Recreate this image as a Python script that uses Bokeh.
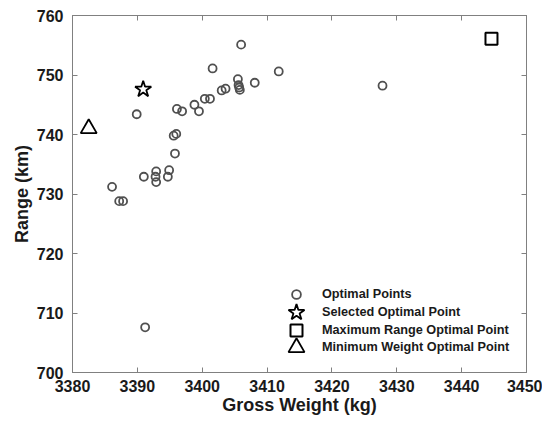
from bokeh.plotting import figure
from bokeh.models import (ColumnDataSource, FixedTicker, LinearAxis, Legend, LegendItem,
                          Range1d, CustomLabelingPolicy)
from bokeh.embed import file_html
from bokeh.resources import INLINE

# ---- data ----
optimal_weight = [3406.0, 3401.6, 3411.8, 3405.5, 3405.6, 3405.7, 3405.8, 3408.1,
                  3403.0, 3403.6, 3400.4, 3401.2, 3398.8, 3399.5, 3396.1, 3396.9,
                  3389.9, 3395.6, 3396.0, 3395.8, 3391.0, 3392.9, 3392.8, 3392.9,
                  3394.9, 3394.7, 3386.1, 3387.2, 3387.8, 3391.2, 3427.8]
optimal_range = [755.1, 751.1, 750.6, 749.3, 748.3, 747.9, 747.5, 748.7,
                 747.4, 747.7, 746.0, 746.0, 745.0, 743.9, 744.3, 743.9,
                 743.4, 739.8, 740.1, 736.8, 732.9, 733.8, 732.9, 732.0,
                 734.0, 732.9, 731.2, 728.8, 728.8, 707.6, 748.2]
selected_weight = [3390.9]
selected_range = [747.6]
maxrange_weight = [3444.6]
maxrange_range = [756.1]
minweight_weight = [3382.5]
minweight_range = [741.0]

x_ticks = [3380, 3390, 3400, 3410, 3420, 3430, 3440, 3450]
y_ticks = [700, 710, 720, 730, 740, 750, 760]

FONT = "Liberation Sans"
GRAY = "#808080"

p = figure(width=542, height=417, output_backend="svg", toolbar_location=None,
           x_range=Range1d(3380, 3450), y_range=Range1d(700, 760),
           min_border_left=72, min_border_right=13, min_border_top=15, min_border_bottom=45)
p.xgrid.visible = False
p.ygrid.visible = False
p.outline_line_color = GRAY
p.outline_line_width = 1
p.background_fill_color = "white"

for ax, ticks in ((p.xaxis[0], x_ticks), (p.yaxis[0], y_ticks)):
    ax.ticker = FixedTicker(ticks=ticks)
    ax.axis_line_color = GRAY
    ax.major_tick_line_color = GRAY
    ax.major_tick_in = 5
    ax.major_tick_out = 0
    ax.minor_tick_line_color = None
    ax.major_label_text_font = FONT
    ax.major_label_text_font_style = "bold"
    ax.major_label_text_font_size = "16px"
    ax.major_label_text_color = "#1a1a1a"
    ax.axis_label_text_font = FONT
    ax.axis_label_text_font_style = "bold"
    ax.axis_label_text_font_size = "18px"
    ax.axis_label_text_color = "#1a1a1a"

p.xaxis.axis_label = "Gross Weight (kg)"
p.yaxis.axis_label = "Range (km)"
p.xaxis.major_label_standoff = 7
p.xaxis.axis_label_standoff = 0
p.yaxis.major_label_standoff = 9
p.yaxis.axis_label_standoff = 2

hide_labels = CustomLabelingPolicy(code="""
try {
  return new indices.constructor(indices.size, 0)
} catch (e) {
  return indices
}
""")

top = LinearAxis(ticker=FixedTicker(ticks=x_ticks), axis_line_color=GRAY,
                 major_tick_line_color=GRAY, major_tick_in=5, major_tick_out=0,
                 minor_tick_line_color=None, major_label_text_font_size="8px",
                 major_label_standoff=0, major_label_policy=hide_labels)
right = LinearAxis(ticker=FixedTicker(ticks=y_ticks), axis_line_color=GRAY,
                   major_tick_line_color=GRAY, major_tick_in=5, major_tick_out=0,
                   minor_tick_line_color=None, major_label_text_font_size="8px",
                   major_label_standoff=0, major_label_policy=hide_labels)
p.add_layout(top, "above")
p.add_layout(right, "right")

src_opt = ColumnDataSource(dict(x=optimal_weight, y=optimal_range))
src_sel = ColumnDataSource(dict(x=selected_weight, y=selected_range))
src_max = ColumnDataSource(dict(x=maxrange_weight, y=maxrange_range))
src_min = ColumnDataSource(dict(x=minweight_weight, y=minweight_range))

r_opt = p.scatter("x", "y", source=src_opt, marker="circle", size=8,
                  fill_color=None, line_color="#505050", line_width=1.8)
r_sel = p.scatter("x", "y", source=src_sel, marker="star", size=17,
                  fill_color=None, line_color="black", line_width=1.8)
r_max = p.scatter("x", "y", source=src_max, marker="square", size=12,
                  fill_color=None, line_color="black", line_width=2)
r_min = p.scatter("x", "y", source=src_min, marker="triangle", size=16,
                  fill_color=None, line_color="black", line_width=1.8)

legend_specs = [
    ("Optimal Points", r_opt, 22, 67),
    ("Selected Optimal Point", r_sel, 42, 39),
    ("Maximum Range Optimal Point", r_max, 30, 27),
    ("Minimum Weight Optimal Point", r_min, 40, 5),
]
for label, rend, g, vy in legend_specs:
    leg = Legend(items=[LegendItem(label=label, renderers=[rend])],
                 location=(224 - g / 2, vy), glyph_width=g, glyph_height=g,
                 label_standoff=int(round(26 - g / 2)), padding=0, spacing=0, margin=0,
                 background_fill_alpha=0, border_line_alpha=0,
                 label_text_font=FONT, label_text_font_style="bold",
                 label_text_font_size="12.7px", label_text_color="#1a1a1a",
                 label_height=12)
    p.add_layout(leg)

open("out.html", "w").write(file_html(p, INLINE))
